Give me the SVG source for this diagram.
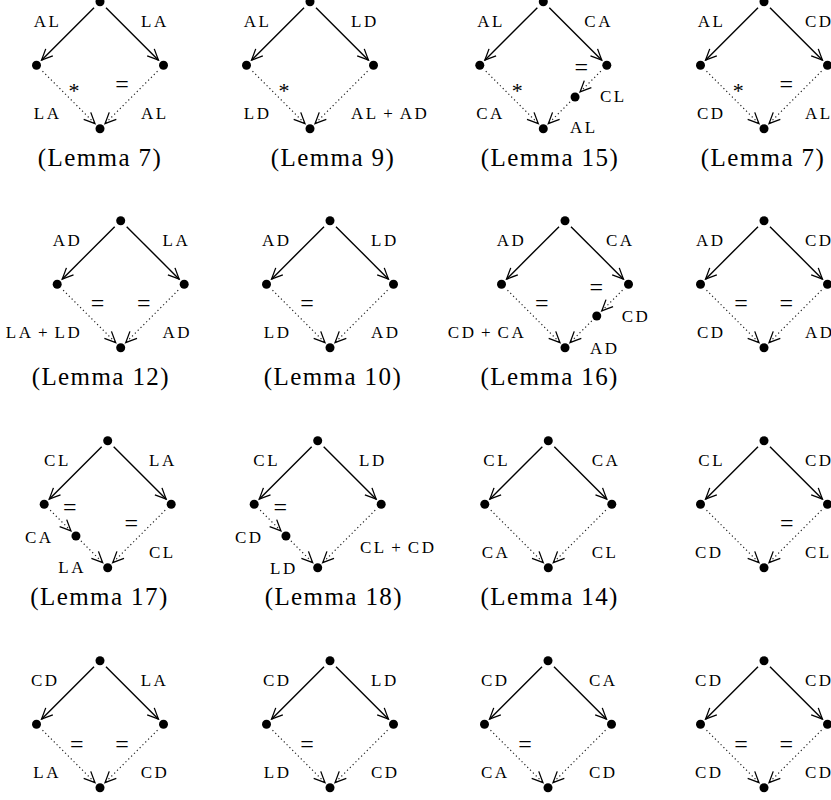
<svg xmlns="http://www.w3.org/2000/svg" width="831" height="800" viewBox="0 0 831 800">
<defs>
<marker id="ah" markerUnits="userSpaceOnUse" markerWidth="14" markerHeight="14" refX="12.5" refY="7" orient="auto" viewBox="0 0 14 14">
<path d="M1.5 2 Q7.5 4.8 12.5 7 Q7.5 9.2 1.5 12" fill="none" stroke="#000" stroke-width="1.3"/>
</marker>
</defs>
<style>
.lbl{font-family:"Liberation Serif",serif;font-size:17px;letter-spacing:2.5px;fill:#000}
.l{text-anchor:end}
.cap{font-family:"Liberation Serif",serif;font-size:25px;letter-spacing:1.4px;text-anchor:middle;fill:#000}
.eq{font-family:"Liberation Serif",serif;font-size:24px;text-anchor:middle;fill:#000}
.ast{font-family:"Liberation Serif",serif;font-size:22px;text-anchor:middle;fill:#000}
.dot{fill:#000}
.solid{stroke:#000;stroke-width:1.4;fill:none;marker-end:url(#ah)}
.dotted{stroke:#222;stroke-width:1.2;stroke-dasharray:1.2 2.8;fill:none;marker-end:url(#ah)}
</style>
<rect width="831" height="800" fill="#fff"/>

<g id="connectors">
<!-- D1 -->
<path class="solid" d="M94 7.7L41.5 60.2"/><path class="solid" d="M106 7.7L158.5 60.2"/>
<path class="dotted" d="M42.5 71.2L95 123.7"/><path class="dotted" d="M157.5 71.2L105 123.7"/>
<!-- D2 -->
<path class="solid" d="M304 7.7L251.5 60.2"/><path class="solid" d="M316 7.7L368.5 60.2"/>
<path class="dotted" d="M252.5 71.2L305 123.7"/><path class="dotted" d="M367.5 71.2L315 123.7"/>
<!-- D3 -->
<path class="solid" d="M537.3 7.7L484.8 60.2"/><path class="solid" d="M549.3 7.7L601.8 60.2"/>
<path class="dotted" d="M485.8 71.2L538.3 123.7"/><path class="dotted" d="M600.8 71.2L580.05 91.95"/>
<path class="dotted" d="M570.05 101.95L548.3 123.7"/>
<!-- D4 -->
<path class="solid" d="M758 7.7L705.5 60.2"/><path class="solid" d="M770 7.7L822.5 60.2"/>
<path class="dotted" d="M706.5 71.2L759 123.7"/><path class="dotted" d="M821.5 71.2L769 123.7"/>
<!-- D5 -->
<path class="solid" d="M114.7 226.7L62.2 279.2"/><path class="solid" d="M126.7 226.7L179.2 279.2"/>
<path class="dotted" d="M63.2 290.2L115.7 342.7"/><path class="dotted" d="M178.2 290.2L125.7 342.7"/>
<!-- D6 -->
<path class="solid" d="M324 226.7L271.5 279.2"/><path class="solid" d="M336 226.7L388.5 279.2"/>
<path class="dotted" d="M272.5 290.2L325 342.7"/><path class="dotted" d="M387.5 290.2L335 342.7"/>
<!-- D7 -->
<path class="solid" d="M559 226.7L506.5 279.2"/><path class="solid" d="M571 226.7L623.5 279.2"/>
<path class="dotted" d="M507.5 290.2L560 342.7"/><path class="dotted" d="M622.5 290.2L601.75 310.95"/>
<path class="dotted" d="M591.75 320.95L570 342.7"/>
<!-- D8 -->
<path class="solid" d="M758 226.7L705.5 279.2"/><path class="solid" d="M770 226.7L822.5 279.2"/>
<path class="dotted" d="M706.5 290.2L759 342.7"/><path class="dotted" d="M821.5 290.2L769 342.7"/>
<!-- D9 -->
<path class="solid" d="M101.7 446.7L49.2 499.2"/><path class="solid" d="M113.7 446.7L166.2 499.2"/>
<path class="dotted" d="M50.2 510.2L70.95 530.95"/><path class="dotted" d="M80.95 540.95L102.7 562.7"/>
<path class="dotted" d="M165.2 510.2L112.7 562.7"/>
<!-- D10 -->
<path class="solid" d="M311.7 446.7L259.2 499.2"/><path class="solid" d="M323.7 446.7L376.2 499.2"/>
<path class="dotted" d="M260.2 510.2L280.95 530.95"/><path class="dotted" d="M290.95 540.95L312.7 562.7"/>
<path class="dotted" d="M375.2 510.2L322.7 562.7"/>
<!-- D11 -->
<path class="solid" d="M542.3 446.7L489.8 499.2"/><path class="solid" d="M554.3 446.7L606.8 499.2"/>
<path class="dotted" d="M490.8 510.2L543.3 562.7"/><path class="dotted" d="M605.8 510.2L553.3 562.7"/>
<!-- D12 -->
<path class="solid" d="M758 446.7L705.5 499.2"/><path class="solid" d="M770 446.7L822.5 499.2"/>
<path class="dotted" d="M706.5 510.2L759 562.7"/><path class="dotted" d="M821.5 510.2L769 562.7"/>
<!-- D13 -->
<path class="solid" d="M94 666.7L41.5 719.2"/><path class="solid" d="M106 666.7L158.5 719.2"/>
<path class="dotted" d="M42.5 730.2L95 782.7"/><path class="dotted" d="M157.5 730.2L105 782.7"/>
<!-- D14 -->
<path class="solid" d="M324 666.7L271.5 719.2"/><path class="solid" d="M336 666.7L388.5 719.2"/>
<path class="dotted" d="M272.5 730.2L325 782.7"/><path class="dotted" d="M387.5 730.2L335 782.7"/>
<!-- D15 -->
<path class="solid" d="M542 666.7L489.5 719.2"/><path class="solid" d="M554 666.7L606.5 719.2"/>
<path class="dotted" d="M490.5 730.2L543 782.7"/><path class="dotted" d="M605.5 730.2L553 782.7"/>
<!-- D16 -->
<path class="solid" d="M758 666.7L705.5 719.2"/><path class="solid" d="M770 666.7L822.5 719.2"/>
<path class="dotted" d="M706.5 730.2L759 782.7"/><path class="dotted" d="M821.5 730.2L769 782.7"/>
</g>

<!-- D1 -->
<g id="d1">
<g id="d1-t"><circle class="dot" cx="100" cy="1.7" r="4.5"/></g>
<g id="d1-l"><circle class="dot" cx="36.5" cy="65.2" r="4.5"/></g>
<g id="d1-r"><circle class="dot" cx="163.5" cy="65.2" r="4.5"/></g>
<g id="d1-b"><circle class="dot" cx="100" cy="128.7" r="4.5"/></g>
<text class="lbl l" x="61.5" y="27.2">AL</text>
<text class="lbl" x="141" y="27.2">LA</text>
<text class="lbl l" x="61.5" y="118.7">LA</text>
<text class="lbl" x="141" y="118.7">AL</text>
<text class="ast" x="74" y="97.5">*</text>
<text class="eq" x="122" y="92">=</text>
<text class="cap" x="100" y="165.7">(Lemma 7)</text>
</g>

<!-- D2 -->
<g id="d2">
<g id="d2-t"><circle class="dot" cx="310" cy="1.7" r="4.5"/></g>
<g id="d2-l"><circle class="dot" cx="246.5" cy="65.2" r="4.5"/></g>
<g id="d2-r"><circle class="dot" cx="373.5" cy="65.2" r="4.5"/></g>
<g id="d2-b"><circle class="dot" cx="310" cy="128.7" r="4.5"/></g>
<text class="lbl l" x="271.5" y="27.2">AL</text>
<text class="lbl" x="351" y="27.2">LD</text>
<text class="lbl l" x="271.5" y="118.7">LD</text>
<text class="lbl" x="351" y="118.7">AL<tspan dx="4.5">+</tspan><tspan dx="4.5">AD</tspan></text>
<text class="ast" x="284" y="97.5">*</text>
<text class="cap" x="333" y="165.7">(Lemma 9)</text>
</g>

<!-- D3 -->
<g id="d3">
<g id="d3-t"><circle class="dot" cx="543.3" cy="1.7" r="4.5"/></g>
<g id="d3-l"><circle class="dot" cx="479.8" cy="65.2" r="4.5"/></g>
<g id="d3-r"><circle class="dot" cx="606.8" cy="65.2" r="4.5"/></g>
<g id="d3-m"><circle class="dot" cx="575.05" cy="96.95" r="4.5"/></g>
<g id="d3-b"><circle class="dot" cx="543.3" cy="128.7" r="4.5"/></g>
<text class="lbl l" x="504.8" y="27.2">AL</text>
<text class="lbl" x="584.3" y="27.2">CA</text>
<text class="lbl l" x="504.8" y="118.7">CA</text>
<text class="ast" x="517.3" y="97.5">*</text>
<text class="eq" x="581.3" y="75">=</text>
<text class="lbl" x="600" y="101.7">CL</text>
<text class="lbl" x="570" y="133.3">AL</text>
<text class="cap" x="550" y="165.7">(Lemma 15)</text>
</g>

<!-- D4 -->
<g id="d4">
<g id="d4-t"><circle class="dot" cx="764" cy="1.7" r="4.5"/></g>
<g id="d4-l"><circle class="dot" cx="700.5" cy="65.2" r="4.5"/></g>
<g id="d4-r"><circle class="dot" cx="827.5" cy="65.2" r="4.5"/></g>
<g id="d4-b"><circle class="dot" cx="764" cy="128.7" r="4.5"/></g>
<text class="lbl l" x="725.5" y="27.2">AL</text>
<text class="lbl" x="805" y="27.2">CD</text>
<text class="lbl l" x="725.5" y="118.7">CD</text>
<text class="lbl" x="805" y="118.7">AL</text>
<text class="ast" x="738.3" y="97.5">*</text>
<text class="eq" x="786.3" y="92">=</text>
<text class="cap" x="763" y="165.7">(Lemma 7)</text>
</g>

<!-- D5 -->
<g id="d5">
<g id="d5-t"><circle class="dot" cx="120.7" cy="220.7" r="4.5"/></g>
<g id="d5-l"><circle class="dot" cx="57.2" cy="284.2" r="4.5"/></g>
<g id="d5-r"><circle class="dot" cx="184.2" cy="284.2" r="4.5"/></g>
<g id="d5-b"><circle class="dot" cx="120.7" cy="347.7" r="4.5"/></g>
<text class="lbl l" x="82.2" y="246.2">AD</text>
<text class="lbl" x="162.5" y="246.2">LA</text>
<text class="lbl l" x="82.2" y="337.7">LA<tspan dx="4.5">+</tspan><tspan dx="4.5">LD</tspan></text>
<text class="lbl" x="162.5" y="337.7">AD</text>
<text class="eq" x="97.5" y="311">=</text>
<text class="eq" x="143.7" y="311">=</text>
<text class="cap" x="100.8" y="384.7">(Lemma 12)</text>
</g>

<!-- D6 -->
<g id="d6">
<g id="d6-t"><circle class="dot" cx="330" cy="220.7" r="4.5"/></g>
<g id="d6-l"><circle class="dot" cx="266.5" cy="284.2" r="4.5"/></g>
<g id="d6-r"><circle class="dot" cx="393.5" cy="284.2" r="4.5"/></g>
<g id="d6-b"><circle class="dot" cx="330" cy="347.7" r="4.5"/></g>
<text class="lbl l" x="291.5" y="246.2">AD</text>
<text class="lbl" x="371" y="246.2">LD</text>
<text class="lbl l" x="291.5" y="337.7">LD</text>
<text class="lbl" x="371" y="337.7">AD</text>
<text class="eq" x="307" y="311">=</text>
<text class="cap" x="333" y="384.7">(Lemma 10)</text>
</g>

<!-- D7 -->
<g id="d7">
<g id="d7-t"><circle class="dot" cx="565" cy="220.7" r="4.5"/></g>
<g id="d7-l"><circle class="dot" cx="501.5" cy="284.2" r="4.5"/></g>
<g id="d7-r"><circle class="dot" cx="628.5" cy="284.2" r="4.5"/></g>
<g id="d7-m"><circle class="dot" cx="596.75" cy="315.95" r="4.5"/></g>
<g id="d7-b"><circle class="dot" cx="565" cy="347.7" r="4.5"/></g>
<text class="lbl l" x="526.2" y="246.2">AD</text>
<text class="lbl" x="606" y="246.2">CA</text>
<text class="lbl l" x="526.2" y="337.7">CD<tspan dx="4.5">+</tspan><tspan dx="4.5">CA</tspan></text>
<text class="eq" x="541.7" y="311">=</text>
<text class="eq" x="596.3" y="295.3">=</text>
<text class="lbl" x="621.7" y="321.7">CD</text>
<text class="lbl" x="590" y="354">AD</text>
<text class="cap" x="549.7" y="384.7">(Lemma 16)</text>
</g>

<!-- D8 -->
<g id="d8">
<g id="d8-t"><circle class="dot" cx="764" cy="220.7" r="4.5"/></g>
<g id="d8-l"><circle class="dot" cx="700.5" cy="284.2" r="4.5"/></g>
<g id="d8-r"><circle class="dot" cx="827.5" cy="284.2" r="4.5"/></g>
<g id="d8-b"><circle class="dot" cx="764" cy="347.7" r="4.5"/></g>
<text class="lbl l" x="725.5" y="246.2">AD</text>
<text class="lbl" x="805" y="246.2">CD</text>
<text class="lbl l" x="725.5" y="337.7">CD</text>
<text class="lbl" x="805" y="337.7">AD</text>
<text class="eq" x="741" y="311">=</text>
<text class="eq" x="786.3" y="311">=</text>
</g>

<!-- D9 -->
<g id="d9">
<g id="d9-t"><circle class="dot" cx="107.7" cy="440.7" r="4.5"/></g>
<g id="d9-l"><circle class="dot" cx="44.2" cy="504.2" r="4.5"/></g>
<g id="d9-r"><circle class="dot" cx="171.2" cy="504.2" r="4.5"/></g>
<g id="d9-m"><circle class="dot" cx="75.95" cy="535.95" r="4.5"/></g>
<g id="d9-b"><circle class="dot" cx="107.7" cy="567.7" r="4.5"/></g>
<text class="lbl l" x="70.8" y="466.2">CL</text>
<text class="lbl" x="149" y="466.2">LA</text>
<text class="eq" x="69.7" y="515.3">=</text>
<text class="lbl" x="25" y="542.7">CA</text>
<text class="eq" x="131.3" y="531">=</text>
<text class="lbl" x="149" y="557.7">CL</text>
<text class="lbl" x="58.3" y="573.3">LA</text>
<text class="cap" x="99.5" y="604.7">(Lemma 17)</text>
</g>

<!-- D10 -->
<g id="d10">
<g id="d10-t"><circle class="dot" cx="317.7" cy="440.7" r="4.5"/></g>
<g id="d10-l"><circle class="dot" cx="254.2" cy="504.2" r="4.5"/></g>
<g id="d10-r"><circle class="dot" cx="381.2" cy="504.2" r="4.5"/></g>
<g id="d10-m"><circle class="dot" cx="285.95" cy="535.95" r="4.5"/></g>
<g id="d10-b"><circle class="dot" cx="317.7" cy="567.7" r="4.5"/></g>
<text class="lbl" x="253.3" y="466.2">CL</text>
<text class="lbl" x="359" y="466.2">LD</text>
<text class="eq" x="280.3" y="515.3">=</text>
<text class="lbl" x="235" y="542.7">CD</text>
<text class="lbl" x="360" y="552.7">CL<tspan dx="4.5">+</tspan><tspan dx="4.5">CD</tspan></text>
<text class="lbl" x="270" y="574">LD</text>
<text class="cap" x="333.8" y="604.7">(Lemma 18)</text>
</g>

<!-- D11 -->
<g id="d11">
<g id="d11-t"><circle class="dot" cx="548.3" cy="440.7" r="4.5"/></g>
<g id="d11-l"><circle class="dot" cx="484.8" cy="504.2" r="4.5"/></g>
<g id="d11-r"><circle class="dot" cx="611.8" cy="504.2" r="4.5"/></g>
<g id="d11-b"><circle class="dot" cx="548.3" cy="567.7" r="4.5"/></g>
<text class="lbl" x="483.3" y="466.2">CL</text>
<text class="lbl" x="591.7" y="466.2">CA</text>
<text class="lbl" x="481.7" y="557.7">CA</text>
<text class="lbl" x="591.7" y="557.7">CL</text>
<text class="cap" x="549.7" y="604.7">(Lemma 14)</text>
</g>

<!-- D12 -->
<g id="d12">
<g id="d12-t"><circle class="dot" cx="764" cy="440.7" r="4.5"/></g>
<g id="d12-l"><circle class="dot" cx="700.5" cy="504.2" r="4.5"/></g>
<g id="d12-r"><circle class="dot" cx="827.5" cy="504.2" r="4.5"/></g>
<g id="d12-b"><circle class="dot" cx="764" cy="567.7" r="4.5"/></g>
<text class="lbl" x="698.3" y="466.2">CL</text>
<text class="lbl" x="805" y="466.2">CD</text>
<text class="lbl" x="695" y="557.7">CD</text>
<text class="lbl" x="805" y="557.7">CL</text>
<text class="eq" x="786.7" y="531">=</text>
</g>

<!-- D13 -->
<g id="d13">
<g id="d13-t"><circle class="dot" cx="100" cy="660.7" r="4.5"/></g>
<g id="d13-l"><circle class="dot" cx="36.5" cy="724.2" r="4.5"/></g>
<g id="d13-r"><circle class="dot" cx="163.5" cy="724.2" r="4.5"/></g>
<g id="d13-b"><circle class="dot" cx="100" cy="787.7" r="4.5"/></g>
<text class="lbl" x="31" y="686.2">CD</text>
<text class="lbl" x="140.7" y="686.2">LA</text>
<text class="lbl" x="33.3" y="777.7">LA</text>
<text class="lbl" x="140.7" y="777.7">CD</text>
<text class="eq" x="76.7" y="752">=</text>
<text class="eq" x="122" y="752">=</text>
</g>

<!-- D14 -->
<g id="d14">
<g id="d14-t"><circle class="dot" cx="330" cy="660.7" r="4.5"/></g>
<g id="d14-l"><circle class="dot" cx="266.5" cy="724.2" r="4.5"/></g>
<g id="d14-r"><circle class="dot" cx="393.5" cy="724.2" r="4.5"/></g>
<g id="d14-b"><circle class="dot" cx="330" cy="787.7" r="4.5"/></g>
<text class="lbl l" x="291.5" y="686.2">CD</text>
<text class="lbl" x="371" y="686.2">LD</text>
<text class="lbl l" x="291.5" y="777.7">LD</text>
<text class="lbl" x="371" y="777.7">CD</text>
<text class="eq" x="307" y="752">=</text>
</g>

<!-- D15 -->
<g id="d15">
<g id="d15-t"><circle class="dot" cx="548" cy="660.7" r="4.5"/></g>
<g id="d15-l"><circle class="dot" cx="484.5" cy="724.2" r="4.5"/></g>
<g id="d15-r"><circle class="dot" cx="611.5" cy="724.2" r="4.5"/></g>
<g id="d15-b"><circle class="dot" cx="548" cy="787.7" r="4.5"/></g>
<text class="lbl l" x="509.5" y="686.2">CD</text>
<text class="lbl" x="589" y="686.2">CA</text>
<text class="lbl l" x="509.5" y="777.7">CA</text>
<text class="lbl" x="589" y="777.7">CD</text>
<text class="eq" x="525" y="752">=</text>
</g>

<!-- D16 -->
<g id="d16">
<g id="d16-t"><circle class="dot" cx="764" cy="660.7" r="4.5"/></g>
<g id="d16-l"><circle class="dot" cx="700.5" cy="724.2" r="4.5"/></g>
<g id="d16-r"><circle class="dot" cx="827.5" cy="724.2" r="4.5"/></g>
<g id="d16-b"><circle class="dot" cx="764" cy="787.7" r="4.5"/></g>
<text class="lbl" x="695" y="686.2">CD</text>
<text class="lbl" x="805" y="686.2">CD</text>
<text class="lbl" x="695" y="777.7">CD</text>
<text class="lbl" x="805" y="777.7">CD</text>
<text class="eq" x="741" y="752">=</text>
<text class="eq" x="786.3" y="752">=</text>
</g>
</svg>
